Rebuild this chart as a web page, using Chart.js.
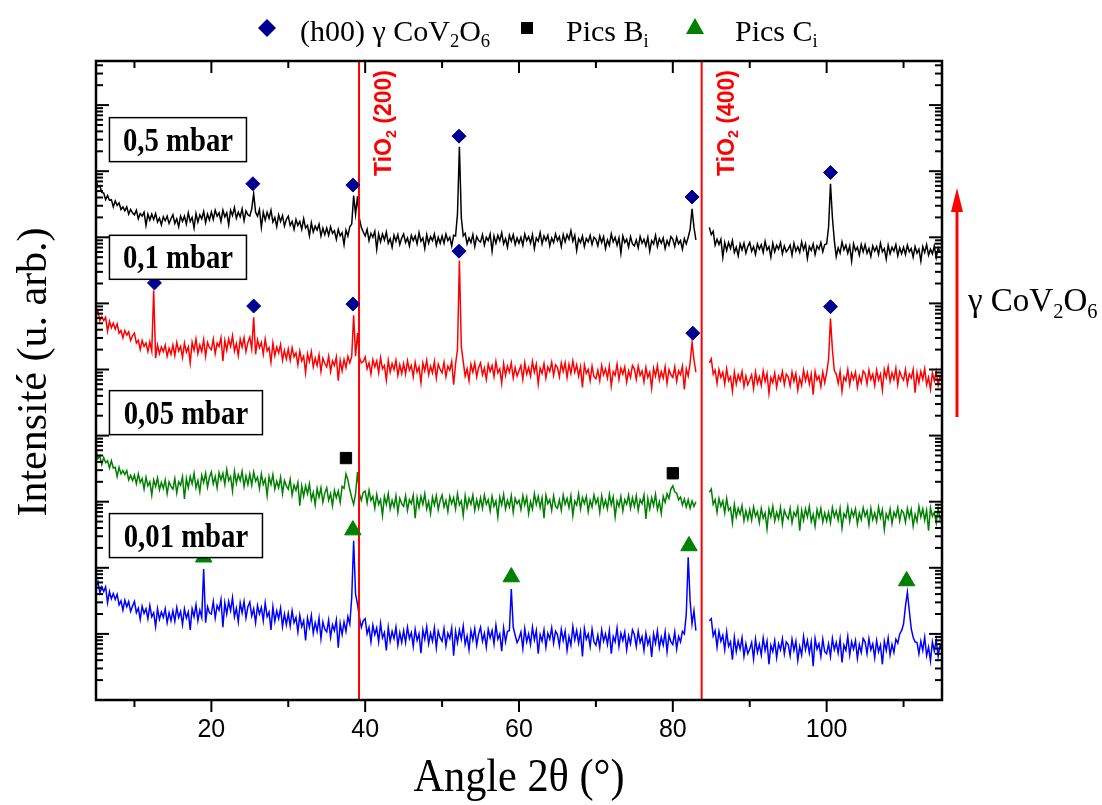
<!DOCTYPE html>
<html>
<head>
<meta charset="utf-8">
<script src="https://cdn.jsdelivr.net/npm/chart.js@4.4.1/dist/chart.umd.min.js"></script>
<style>
  html, body { margin: 0; padding: 0; background: #fff; }
</style>
</head>
<body>
<canvas id="xrdChart" width="1102" height="805"></canvas>
<script>
// angle grid (2theta, degrees)
var angleStart = 5, angleEnd = 115, angleStep = 0.25;
var angles = [];
for (var a = angleStart; a <= angleEnd; a += angleStep) angles.push(a);

// log10 of intensity (u. arb.), one value per angle (5 deg per row), null = no data
var int05 = [
  6.86,6.76,6.78,6.68,6.67,6.57,6.63,6.56,6.57,6.46,6.55,6.48,6.52,6.42,6.46,6.40,6.46,6.35,6.42,6.37,
  6.34,6.41,6.28,6.36,6.32,6.38,6.18,6.35,6.26,6.35,6.27,6.36,6.23,6.29,6.19,6.31,6.25,6.32,6.21,6.28,
  6.34,6.21,6.28,6.16,6.32,6.24,6.32,6.20,6.37,6.24,6.30,6.14,6.36,6.23,6.34,6.28,6.39,6.22,6.35,6.26,
  6.38,6.27,6.41,6.32,6.37,6.24,6.41,6.31,6.37,6.19,6.41,6.33,6.45,6.29,6.38,6.31,6.43,6.25,6.40,6.34,
  6.32,6.43,6.66,6.38,6.32,6.42,6.15,6.38,6.26,6.38,6.29,6.41,6.23,6.30,6.16,6.34,6.24,6.33,6.17,6.27,
  6.32,6.18,6.24,6.12,6.27,6.18,6.24,6.12,6.28,6.14,6.18,6.02,6.22,6.08,6.17,6.11,6.20,6.02,6.14,6.04,
  6.14,6.03,6.16,6.06,6.10,5.97,6.12,6.02,6.07,5.89,6.11,6.02,6.16,6.20,6.63,6.35,6.62,6.28,6.15,6.08,
  6.02,6.12,5.95,6.06,6.00,6.09,5.82,6.05,5.93,6.05,5.96,6.08,5.91,5.98,5.85,6.03,5.94,6.04,5.89,5.99,
  6.05,5.92,5.99,5.87,6.03,5.95,6.02,5.90,6.07,5.94,5.99,5.83,6.04,5.91,6.01,5.95,6.05,5.88,6.00,5.91,
  6.02,5.91,6.05,5.95,6.00,5.87,6.03,6.02,6.35,7.37,6.30,6.02,6.06,5.90,5.99,5.92,6.04,5.86,6.01,5.95,
  5.93,6.04,5.88,6.00,5.95,6.05,5.79,6.02,5.91,6.03,5.95,6.07,5.90,5.98,5.85,6.03,5.94,6.04,5.89,5.99,
  5.91,6.00,5.88,6.05,5.95,6.01,5.91,6.04,5.83,5.99,5.94,6.07,5.90,6.02,5.95,6.03,5.87,5.99,5.92,6.05,
  5.95,6.01,5.86,6.04,5.93,6.04,5.97,6.10,5.94,6.03,5.80,5.98,5.92,6.02,5.86,5.98,5.93,6.03,5.89,6.00,
  5.97,5.87,6.02,5.92,6.01,5.83,5.96,5.88,6.05,5.93,6.00,5.88,5.99,5.76,6.02,5.92,5.97,5.85,6.01,5.90,
  5.87,5.96,5.84,6.01,5.91,5.97,5.87,6.00,5.79,5.95,5.90,6.03,5.86,5.98,5.91,5.99,5.83,5.95,5.88,6.01,
  5.97,5.86,6.00,5.90,5.95,5.82,5.98,5.90,6.00,6.12,6.43,6.15,5.96,null,null,null,null,null,null,6.15,
  6.04,6.09,5.88,5.97,5.89,5.97,5.70,5.92,5.80,5.92,5.83,5.95,5.77,5.85,5.72,5.90,5.81,5.91,5.76,5.86,
  5.92,5.79,5.86,5.74,5.90,5.82,5.89,5.77,5.94,5.81,5.86,5.70,5.91,5.78,5.88,5.82,5.92,5.75,5.87,5.78,
  5.82,5.88,5.73,5.91,5.79,5.86,5.77,5.93,5.81,5.90,5.68,5.86,5.80,5.90,5.74,5.87,5.82,5.92,5.78,5.89,
  5.90,6.15,6.81,6.30,5.95,5.71,5.84,5.76,5.93,5.81,5.88,5.76,5.87,5.64,5.90,5.80,5.85,5.73,5.89,5.78,
  5.89,5.76,5.83,5.71,5.87,5.79,5.86,5.74,5.91,5.78,5.83,5.67,5.88,5.75,5.85,5.79,5.89,5.72,5.84,5.75,
  5.85,5.74,5.88,5.78,5.83,5.70,5.86,5.76,5.82,5.64,5.86,5.77,5.89,5.73,5.82,5.75,5.87,5.69,5.84,5.78,
  5.80
];
var int01 = [
  4.84,4.89,4.74,4.80,4.74,4.79,4.58,4.73,4.63,4.70,4.61,4.69,4.55,4.59,4.48,4.59,4.52,4.57,4.44,4.51,
  4.55,4.40,4.44,4.30,4.44,4.35,4.40,4.27,4.42,4.28,5.20,4.17,4.37,4.24,4.34,4.27,4.37,4.20,4.32,4.23,
  4.37,4.21,4.41,4.28,4.35,4.18,4.40,4.26,4.34,4.10,4.41,4.29,4.46,4.24,4.37,4.27,4.45,4.20,4.41,4.33,
  4.30,4.46,4.24,4.40,4.35,4.48,4.13,4.44,4.29,4.46,4.35,4.51,4.28,4.39,4.21,4.46,4.34,4.48,4.27,4.41,
  4.49,4.31,4.79,4.23,4.45,4.33,4.41,4.23,4.46,4.28,4.33,4.11,4.40,4.21,4.34,4.25,4.38,4.14,4.29,4.16,
  4.31,4.14,4.33,4.19,4.25,4.07,4.28,4.13,4.20,3.95,4.24,4.12,4.27,4.04,4.17,4.06,4.22,3.97,4.17,4.09,
  4.04,4.20,3.97,4.13,4.06,4.19,3.83,4.14,3.98,4.15,4.03,4.20,4.10,4.20,4.82,4.20,4.55,4.18,4.10,4.12,
  4.19,4.01,4.10,3.93,4.15,4.04,4.13,3.95,4.18,4.01,4.06,3.84,4.14,3.96,4.09,4.00,4.14,3.91,4.07,3.94,
  4.09,3.93,4.13,3.99,4.06,3.89,4.11,3.96,4.04,3.80,4.10,3.98,4.14,3.92,4.05,3.95,4.12,3.87,4.08,4.00,
  3.95,4.11,3.89,4.05,3.99,4.12,3.77,4.08,4.30,5.65,4.35,4.12,3.90,4.01,3.83,4.08,3.96,4.10,3.89,4.03,
  4.10,3.92,4.02,3.85,4.08,3.97,4.06,3.89,4.12,3.95,4.01,3.79,4.09,3.91,4.05,3.96,4.10,3.87,4.03,3.90,
  3.98,4.06,3.85,4.10,3.93,4.03,3.90,4.12,3.96,4.08,3.78,4.02,3.94,4.09,3.87,4.04,3.97,4.11,3.91,4.07,
  4.03,3.89,4.10,3.97,4.10,3.88,4.08,3.94,4.13,3.96,4.07,3.90,4.04,3.73,4.07,3.94,4.00,3.83,4.05,3.89,
  3.86,3.99,3.83,4.06,3.92,4.01,3.87,4.05,3.75,3.97,3.91,4.08,3.85,4.02,3.93,4.04,3.81,3.98,3.88,4.06,
  4.01,3.85,4.05,3.91,3.98,3.81,4.03,3.88,3.96,3.72,4.02,3.90,4.06,3.84,3.97,3.87,4.04,3.79,4.00,3.92,
  3.88,4.04,3.82,3.98,3.92,4.05,3.70,4.01,3.90,4.10,4.41,4.15,3.96,null,null,null,null,null,null,4.10,
  4.16,3.93,3.99,3.79,4.00,3.88,3.96,3.78,4.01,3.83,3.89,3.67,3.96,3.78,3.92,3.83,3.97,3.74,3.90,3.77,
  3.84,3.92,3.71,3.96,3.79,3.89,3.76,3.98,3.82,3.94,3.64,3.88,3.80,3.95,3.73,3.90,3.83,3.97,3.77,3.93,
  3.89,3.75,3.96,3.82,3.94,3.69,3.87,3.76,3.99,3.83,3.95,3.78,3.93,3.62,3.97,3.84,3.90,3.74,3.96,3.80,
  3.95,4.15,4.77,4.30,3.98,3.93,3.79,3.97,3.67,3.89,3.83,4.00,3.77,3.94,3.85,3.96,3.73,3.90,3.80,3.98,
  3.94,3.78,3.99,3.85,3.93,3.76,3.99,3.84,3.93,3.69,4.00,3.88,4.04,3.82,3.95,3.85,4.02,3.77,3.97,3.89,
  3.84,4.00,3.78,3.93,3.87,4.00,3.65,3.95,3.80,3.97,3.85,4.01,3.77,3.88,3.70,3.95,3.83,3.97,3.76,3.90,
  3.86
];
var int005 = [
  2.78,2.65,2.69,2.56,2.67,2.59,2.62,2.51,2.62,2.51,2.52,2.38,2.52,2.42,2.47,2.41,2.47,2.33,2.40,2.32,
  2.40,2.27,2.42,2.29,2.35,2.19,2.37,2.24,2.30,2.10,2.33,2.23,2.36,2.18,2.29,2.20,2.33,2.12,2.30,2.23,
  2.19,2.35,2.13,2.30,2.25,2.38,2.04,2.35,2.21,2.38,2.27,2.43,2.21,2.32,2.15,2.40,2.29,2.43,2.22,2.37,
  2.45,2.27,2.38,2.21,2.44,2.33,2.43,2.26,2.49,2.32,2.38,2.16,2.46,2.28,2.41,2.32,2.46,2.23,2.39,2.26,
  2.42,2.25,2.45,2.31,2.37,2.20,2.42,2.26,2.34,2.09,2.38,2.26,2.41,2.19,2.31,2.21,2.37,2.12,2.32,2.24,
  2.19,2.34,2.10,2.25,2.17,2.29,1.94,2.24,2.08,2.24,2.12,2.27,2.03,2.14,1.95,2.20,2.07,2.21,1.99,2.13,
  2.21,2.02,2.12,1.94,2.17,2.06,2.16,1.99,2.23,2.20,2.42,2.33,2.18,2.06,1.96,2.12,2.45,2.12,2.02,2.14,
  2.16,1.98,2.17,2.02,2.08,1.90,2.11,1.96,2.03,1.79,2.08,1.96,2.12,1.89,2.02,1.92,2.09,1.84,2.05,1.97,
  1.93,2.09,1.87,2.03,1.97,2.10,1.75,2.06,1.91,2.08,1.96,2.12,1.89,2.00,1.82,2.07,1.95,2.09,1.88,2.02,
  2.10,1.92,2.02,1.85,2.08,1.97,2.06,1.89,2.12,1.95,2.01,1.79,2.09,1.91,2.05,1.96,2.10,1.87,2.03,1.90,
  2.06,1.90,2.10,1.96,2.03,1.86,2.08,1.93,2.01,1.77,2.07,1.95,2.11,1.89,2.02,1.92,2.09,1.84,2.05,1.97,
  2.02,1.88,2.09,1.95,2.07,1.82,2.00,1.89,2.12,1.96,2.08,1.91,2.06,1.75,2.10,1.97,2.03,1.87,2.09,1.93,
  1.90,2.03,1.87,2.10,1.96,2.05,1.91,2.09,1.79,2.01,1.95,2.12,1.89,2.06,1.97,2.08,1.85,2.02,1.92,2.10,
  1.97,2.05,1.84,2.09,1.92,2.02,1.89,2.11,1.95,2.07,1.77,2.01,1.93,2.08,1.86,2.03,1.96,2.10,1.90,2.06,
  1.93,2.09,1.87,2.03,1.97,2.10,1.74,2.05,1.89,2.06,1.94,2.11,1.88,2.00,1.82,2.08,1.99,2.12,2.05,2.19,
  2.24,2.15,2.13,2.03,2.07,1.95,2.04,1.92,2.03,1.90,2.01,1.93,2.00,null,null,null,null,null,null,2.14,
  2.19,1.96,2.03,1.84,2.05,1.93,2.01,1.83,2.05,1.87,1.91,1.68,1.96,1.77,1.90,1.81,1.94,1.71,1.86,1.73,
  1.88,1.72,1.92,1.78,1.85,1.68,1.90,1.75,1.83,1.59,1.89,1.77,1.93,1.71,1.84,1.74,1.91,1.66,1.87,1.79,
  1.74,1.90,1.68,1.84,1.78,1.91,1.56,1.87,1.72,1.89,1.77,1.93,1.70,1.81,1.63,1.88,1.76,1.90,1.69,1.83,
  1.71,1.84,1.68,1.91,1.77,1.86,1.72,1.90,1.60,1.82,1.76,1.93,1.70,1.87,1.78,1.89,1.66,1.83,1.73,1.91,
  1.78,1.86,1.65,1.90,1.73,1.83,1.70,1.92,1.76,1.88,1.58,1.82,1.74,1.89,1.67,1.84,1.77,1.91,1.71,1.87,
  1.83,1.69,1.90,1.76,1.88,1.63,1.81,1.70,1.93,1.77,1.89,1.72,1.87,1.56,1.91,1.78,1.84,1.68,1.90,1.74,
  1.80
];
var int001 = [
  0.71,0.79,0.62,0.71,0.64,0.71,0.47,0.64,0.53,0.61,0.52,0.60,0.44,0.50,0.36,0.51,0.41,0.49,0.34,0.42,
  0.49,0.32,0.39,0.22,0.42,0.31,0.38,0.23,0.43,0.26,0.32,0.11,0.38,0.22,0.33,0.25,0.38,0.17,0.32,0.20,
  0.35,0.19,0.40,0.25,0.34,0.14,0.38,0.24,0.33,0.06,0.38,0.26,0.44,0.20,0.36,0.25,0.98,0.17,0.41,0.32,
  0.30,0.49,0.24,0.43,0.36,0.52,0.10,0.47,0.30,0.49,0.35,0.55,0.26,0.39,0.18,0.47,0.32,0.49,0.24,0.41,
  0.48,0.27,0.38,0.17,0.43,0.30,0.40,0.20,0.47,0.26,0.33,0.06,0.41,0.19,0.35,0.23,0.39,0.11,0.30,0.14,
  0.31,0.12,0.35,0.17,0.25,0.03,0.28,0.11,0.20,-0.10,0.24,0.10,0.28,0.01,0.17,0.04,0.24,-0.07,0.18,0.07,
  0.03,0.21,-0.05,0.14,0.05,0.21,-0.21,0.16,-0.01,0.18,0.04,0.26,0.15,0.55,1.41,0.60,0.45,0.25,0.10,0.20,
  0.23,0.00,0.10,-0.12,0.13,-0.01,0.09,-0.12,0.16,-0.06,0.02,-0.25,0.10,-0.11,0.04,-0.07,0.10,-0.17,0.02,-0.13,
  0.05,-0.13,0.10,-0.07,0.02,-0.19,0.07,-0.10,0.00,-0.29,0.06,-0.08,0.11,-0.15,0.01,-0.11,0.09,-0.21,0.04,-0.06,
  -0.11,0.08,-0.18,0.01,-0.07,0.09,-0.33,0.04,-0.13,0.06,-0.08,0.12,-0.16,-0.03,-0.24,0.05,-0.09,0.08,-0.17,0.00,
  0.10,-0.11,0.01,-0.20,0.07,-0.06,0.05,-0.15,0.13,-0.08,0.00,-0.26,0.09,-0.12,0.04,0.05,0.68,0.10,-0.02,-0.13,
  -0.07,0.03,-0.22,0.08,-0.12,0.00,-0.16,0.10,-0.09,0.05,-0.30,-0.01,-0.11,0.06,-0.20,0.01,-0.08,0.09,-0.14,0.04,
  -0.01,-0.18,0.07,-0.10,0.04,-0.25,-0.04,-0.17,0.11,-0.09,0.05,-0.14,0.03,-0.34,0.08,-0.08,0.00,-0.19,0.07,-0.12,
  -0.17,-0.02,-0.21,0.06,-0.11,0.00,-0.16,0.05,-0.30,-0.04,-0.12,0.09,-0.19,0.01,-0.10,0.03,-0.24,-0.03,-0.15,0.06,
  -0.01,-0.19,0.04,-0.13,-0.04,-0.25,0.01,-0.16,-0.06,-0.35,0.00,-0.14,0.05,-0.21,-0.05,-0.17,0.03,-0.27,-0.02,-0.12,
  -0.16,0.03,-0.23,-0.04,-0.12,0.04,0.00,0.30,1.16,0.50,0.15,0.35,0.05,null,null,null,null,null,null,0.20,
  0.23,-0.03,0.05,-0.20,0.04,-0.11,-0.02,-0.24,0.03,-0.19,-0.12,-0.39,-0.05,-0.27,-0.11,-0.23,-0.06,-0.34,-0.15,-0.30,
  -0.23,-0.13,-0.38,-0.08,-0.28,-0.16,-0.32,-0.06,-0.25,-0.11,-0.46,-0.17,-0.27,-0.10,-0.36,-0.15,-0.24,-0.07,-0.30,-0.12,
  -0.16,-0.33,-0.08,-0.25,-0.11,-0.40,-0.19,-0.32,-0.04,-0.24,-0.10,-0.29,-0.12,-0.49,-0.07,-0.23,-0.15,-0.34,-0.08,-0.27,
  -0.30,-0.15,-0.34,-0.07,-0.24,-0.13,-0.29,-0.08,-0.43,-0.17,-0.25,-0.04,-0.32,-0.12,-0.23,-0.10,-0.37,-0.16,-0.28,-0.07,
  -0.12,-0.30,-0.07,-0.24,-0.15,-0.36,-0.10,-0.27,-0.17,-0.46,-0.11,-0.25,-0.06,-0.32,-0.16,-0.28,-0.08,-0.14,0.00,0.05,
  0.15,0.42,0.63,0.35,0.08,-0.05,-0.12,-0.13,-0.30,-0.11,-0.25,-0.05,-0.33,-0.20,-0.41,-0.12,-0.26,-0.09,-0.34,-0.17,
  -0.24
];

var pressures = ['0,5 mbar', '0,1 mbar', '0,05 mbar', '0,01 mbar'];

// peak markers (angle, log intensity)
var h00X = [25.4, 38.4, 52.2, 82.5, 100.5, 12.6, 25.5, 38.4, 52.2, 82.6, 100.5];
var h00Y = [6.81, 6.79, 7.53, 6.61, 6.98, 5.31, 4.96, 4.99, 5.79, 4.55, 4.95];
var picsBX = [37.5, 80.0];
var picsBY = [2.66, 2.43];
var picsCX = [19.0, 38.4, 59.0, 82.1, 110.4];
var picsCY = [1.16, 1.57, 0.86, 1.33, 0.80];

// substrate reflections
var tio2Pos = [39.2, 83.75];
var tio2Names = ['(200)', '(400)'];

function toPoints(xs, ys) {
    var pts = [];
    for (var i = 0; i < xs.length; i++) pts.push({x: xs[i], y: ys[i]});
    return pts;
}

var SERIF = '"Liberation Serif", "Times New Roman", serif';
var SANS = '"Liberation Sans", Arial, sans-serif';

// text with subscripts: parts = [[text, isSub], ...]
function drawRich(ctx, parts, x, y, size, family, weight) {
    var cx = x;
    for (var i = 0; i < parts.length; i++) {
        var sub = parts[i][1];
        var s = sub ? size * 0.62 : size;
        ctx.font = (weight || '') + ' ' + s + 'px ' + family;
        ctx.fillText(parts[i][0], cx, y + (sub ? size * 0.2 : 0));
        cx += ctx.measureText(parts[i][0]).width;
    }
    return cx;
}

function line(ctx, x1, y1, x2, y2) {
    ctx.beginPath(); ctx.moveTo(x1, y1); ctx.lineTo(x2, y2); ctx.stroke();
}

var decorPlugin = {
    id: 'xrdDecor',
    afterDatasetDraw: function(chart, args) {
        // red TiO2 lines go over the patterns but under the markers
        if (args.index !== 3) return;
        var ctx = chart.ctx, ar = chart.chartArea, x = chart.scales.x;
        ctx.save();
        ctx.strokeStyle = '#ff0000';
        ctx.lineWidth = 2;
        tio2Pos.forEach(function(p) {
            var px = x.getPixelForValue(p);
            line(ctx, px, ar.top, px, ar.bottom);
        });
        ctx.restore();
    },
    afterDatasetsDraw: function(chart) {
        var ctx = chart.ctx, ar = chart.chartArea;
        var x = chart.scales.x, y = chart.scales.y;
        ctx.save();

        // TiO2 labels
        ctx.fillStyle = '#ff0000';
        ctx.textBaseline = 'alphabetic';
        ctx.textAlign = 'left';
        tio2Pos.forEach(function(p, i) {
            var px = x.getPixelForValue(p);
            ctx.save();
            ctx.translate(px + 32, ar.top + 115);
            ctx.rotate(-Math.PI / 2);
            drawRich(ctx, [['TiO', false], ['2', true], [' ' + tio2Names[i], false]], 0, 0, 23, SANS, 'bold');
            ctx.restore();
        });

        // pressure boxes
        var boxTops = [7.81, 6.03, 3.68, 1.82];
        var boxW = [137, 137, 153, 153];
        pressures.forEach(function(lab, i) {
            var bx = x.getPixelForValue(6.75), by = y.getPixelForValue(boxTops[i]);
            ctx.fillStyle = '#fff';
            ctx.fillRect(bx, by, boxW[i], 44);
            ctx.strokeStyle = '#000';
            ctx.lineWidth = 1.5;
            ctx.strokeRect(bx, by, boxW[i], 44);
            ctx.fillStyle = '#000';
            ctx.save();
            ctx.translate(bx + boxW[i] / 2, by + 33);
            ctx.scale(0.87, 1);
            ctx.font = 'bold 33px ' + SERIF;
            ctx.textAlign = 'center';
            ctx.fillText(lab, 0, 0);
            ctx.restore();
        });

        // frame and ticks
        ctx.strokeStyle = '#000';
        ctx.lineWidth = 2;
        x.ticks.forEach(function(t) {
            var px = x.getPixelForValue(t.value);
            var len = t.major ? 12 : 7;
            line(ctx, px, ar.bottom, px, ar.bottom + len);
            line(ctx, px, ar.top, px, ar.top + len);
        });
        y.ticks.forEach(function(t) {
            var py = y.getPixelForValue(t.value);
            var len = t.major ? 13 : 7;
            line(ctx, ar.left, py, ar.left + len, py);
            line(ctx, ar.right, py, ar.right - len, py);
        });
        ctx.lineWidth = 2.5;
        ctx.strokeRect(ar.left, ar.top, ar.right - ar.left, ar.bottom - ar.top);
        ctx.restore();
    },
    afterDraw: function(chart) {
        var ctx = chart.ctx, ar = chart.chartArea;
        ctx.save();
        ctx.fillStyle = '#000';
        ctx.textBaseline = 'alphabetic';
        ctx.textAlign = 'left';

        // legend
        ctx.fillStyle = '#000090';
        ctx.beginPath();
        ctx.moveTo(267, 19); ctx.lineTo(276, 28); ctx.lineTo(267, 37); ctx.lineTo(258, 28);
        ctx.closePath(); ctx.fill();
        ctx.fillStyle = '#000';
        drawRich(ctx, [['(h00) γ CoV', false], ['2', true], ['O', false], ['6', true]], 300, 41, 30, SERIF);
        ctx.fillRect(521, 22, 12, 12);
        drawRich(ctx, [['Pics B', false], ['i', true]], 566, 41, 30, SERIF);
        ctx.fillStyle = '#008000';
        ctx.beginPath();
        ctx.moveTo(695, 18); ctx.lineTo(704, 34); ctx.lineTo(686, 34);
        ctx.closePath(); ctx.fill();
        ctx.fillStyle = '#000';
        drawRich(ctx, [['Pics C', false], ['i', true]], 735, 41, 30, SERIF);

        // arrow + phase on the right
        var ax = ar.right + 15;
        ctx.strokeStyle = '#ff0000';
        ctx.fillStyle = '#ff0000';
        ctx.lineWidth = 3;
        line(ctx, ax, 417, ax, 205);
        ctx.beginPath();
        ctx.moveTo(ax, 188); ctx.lineTo(ax + 6, 212); ctx.lineTo(ax - 6, 212);
        ctx.closePath(); ctx.fill();
        ctx.fillStyle = '#000';
        drawRich(ctx, [['γ CoV', false], ['2', true], ['O', false], ['6', true]], ax + 11, 311, 33, SERIF);

        // axis titles
        ctx.save();
        ctx.translate((ar.left + ar.right) / 2, 791);
        ctx.scale(0.92, 1);
        ctx.font = '46px ' + SERIF;
        ctx.textAlign = 'center';
        ctx.fillText('Angle 2θ (°)', 0, 0);
        ctx.restore();

        ctx.save();
        ctx.translate(35, 372);
        ctx.rotate(-Math.PI / 2);
        ctx.font = '42px ' + SERIF;
        ctx.textAlign = 'center';
        ctx.textBaseline = 'middle';
        ctx.fillText('Intensité (u. arb.)', 0, 0);
        ctx.restore();

        ctx.restore();
    }
};

function traceSet(label, data, color) {
    return {
        label: label, data: data, borderColor: color, backgroundColor: color,
        borderWidth: 1.5, pointRadius: 0, tension: 0, spanGaps: false
    };
}

function markerSet(label, pts, style, radius, color) {
    return {
        label: label, data: pts, showLine: false, pointStyle: style,
        pointRadius: radius, pointBackgroundColor: color, pointBorderColor: color,
        pointBorderWidth: 1
    };
}

var ctx = document.getElementById('xrdChart').getContext('2d');
var chart = new Chart(ctx, {
    type: 'line',
    data: {
        labels: angles,
        datasets: [
            markerSet('(h00) γ CoV2O6', toPoints(h00X, h00Y), 'rectRot', 7, '#000090'),
            markerSet('Pics Bi', toPoints(picsBX, picsBY), 'rect', 8, '#000'),
            markerSet('Pics Ci', toPoints(picsCX, picsCY), 'triangle', 9.5, '#008000'),
            traceSet(pressures[0], int05, '#000000'),
            traceSet(pressures[1], int01, '#ff0000'),
            traceSet(pressures[2], int005, '#008000'),
            traceSet(pressures[3], int001, '#0000ff')
        ]
    },
    options: {
        responsive: false,
        animation: false,
        events: [],
        layout: { padding: { top: 61, right: 160, bottom: 0, left: 0 } },
        plugins: { legend: { display: false }, tooltip: { enabled: false } },
        scales: {
            x: {
                type: 'linear', min: angleStart, max: angleEnd,
                grid: { display: false }, border: { display: false },
                afterBuildTicks: function(scale) {
                    var t = [];
                    for (var v = 10; v <= scale.max; v += 10) t.push({ value: v, major: v % 20 === 0 });
                    scale.ticks = t;
                },
                afterFit: function(scale) { scale.height = 105; },
                ticks: {
                    autoSkip: false, maxRotation: 0, padding: 7, color: '#000',
                    font: { family: SANS, size: 25 },
                    callback: function(v) { return v % 20 === 0 ? v : ''; }
                }
            },
            y: {
                type: 'linear', min: -1, max: 8.667,
                grid: { display: false }, border: { display: false },
                ticks: { display: false },
                afterBuildTicks: function(scale) {
                    var t = [];
                    for (var n = Math.floor(scale.min); n < scale.max; n++) {
                        for (var k = 1; k <= 9; k++) {
                            var v = n + Math.log10(k);
                            if (v >= scale.min && v <= scale.max) t.push({ value: v, major: k === 1 });
                        }
                    }
                    scale.ticks = t;
                },
                afterFit: function(scale) { scale.width = 96; }
            }
        }
    },
    plugins: [decorPlugin]
});
</script>
</body>
</html>
